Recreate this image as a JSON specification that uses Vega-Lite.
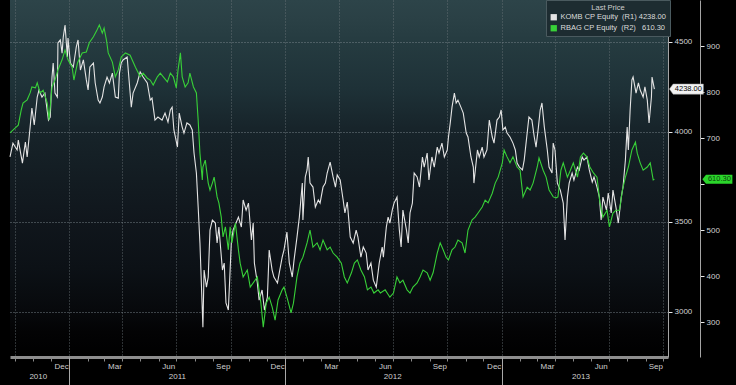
{
"$schema": "https://vega.github.io/schema/vega-lite/v6.json",
"width": 658,
"height": 357,
"autosize": {"type": "none"},
"padding": {"left": 10, "top": 0, "right": 68, "bottom": 28},
"background": "#000000",
"view": {"stroke": null, "fill": {"gradient": "linear", "x1": 0, "y1": 0, "x2": 0, "y2": 1, "stops": [
  {"offset": 0, "color": "#2d4449"},
  {"offset": 0.06, "color": "#2a4045"},
  {"offset": 0.12, "color": "#253b40"},
  {"offset": 0.25, "color": "#1e3137"},
  {"offset": 0.36, "color": "#17242a"},
  {"offset": 0.5, "color": "#131c22"},
  {"offset": 0.62, "color": "#10161c"},
  {"offset": 0.75, "color": "#0c1116"},
  {"offset": 0.87, "color": "#07090c"},
  {"offset": 0.93, "color": "#030304"},
  {"offset": 1, "color": "#000000"}]}},
"config": {
  "font": "Liberation Sans Narrow, Liberation Sans, sans-serif",
  "axis": {"labelFont": "Liberation Sans Narrow, Liberation Sans, sans-serif", "labelColor": "#cfcfcf", "labelFontSize": 8, "title": null, "grid": false},
  "text": {"font": "Liberation Sans Narrow, Liberation Sans, sans-serif"}
},
"datasets": {
"komb": [
{"d":"2010-09-23","v":3861},{"d":"2010-09-28","v":3938},{"d":"2010-10-05","v":3900},{"d":"2010-10-07","v":3955},{"d":"2010-10-14","v":3827},{"d":"2010-10-19","v":3944},{"d":"2010-10-22","v":3861},{"d":"2010-10-27","v":4027},{"d":"2010-10-30","v":4133},{"d":"2010-11-03","v":4039},{"d":"2010-11-08","v":4194},{"d":"2010-11-11","v":4233},{"d":"2010-11-16","v":4194},{"d":"2010-11-21","v":4216},{"d":"2010-11-27","v":4066},{"d":"2010-11-30","v":4083},{"d":"2010-12-03","v":4305},{"d":"2010-12-05","v":4383},{"d":"2010-12-08","v":4216},{"d":"2010-12-12","v":4194},{"d":"2010-12-13","v":4494},{"d":"2010-12-17","v":4511},{"d":"2010-12-20","v":4438},{"d":"2010-12-22","v":4527},{"d":"2010-12-25","v":4594},{"d":"2010-12-29","v":4416},{"d":"2010-12-30","v":4522},
{"d":"2011-01-03","v":4383},{"d":"2011-01-08","v":4361},{"d":"2011-01-13","v":4472},{"d":"2011-01-16","v":4511},{"d":"2011-01-20","v":4344},{"d":"2011-01-25","v":4400},{"d":"2011-01-30","v":4289},{"d":"2011-02-02","v":4233},{"d":"2011-02-05","v":4361},{"d":"2011-02-11","v":4383},{"d":"2011-02-14","v":4272},{"d":"2011-02-19","v":4177},{"d":"2011-02-22","v":4161},{"d":"2011-02-26","v":4194},{"d":"2011-03-01","v":4250},{"d":"2011-03-06","v":4305},{"d":"2011-03-10","v":4272},{"d":"2011-03-15","v":4327},{"d":"2011-03-20","v":4194},{"d":"2011-03-25","v":4188},{"d":"2011-03-27","v":4327},{"d":"2011-03-30","v":4383},{"d":"2011-04-02","v":4400},{"d":"2011-04-09","v":4416},{"d":"2011-04-16","v":4138},{"d":"2011-04-19","v":4216},{"d":"2011-04-26","v":4272},{"d":"2011-05-01","v":4333},{"d":"2011-05-06","v":4305},{"d":"2011-05-13","v":4272},{"d":"2011-05-18","v":4177},{"d":"2011-05-21","v":4188},{"d":"2011-05-26","v":4066},{"d":"2011-05-31","v":4083},{"d":"2011-06-07","v":4066},{"d":"2011-06-12","v":4105},{"d":"2011-06-17","v":4055},{"d":"2011-06-21","v":4122},{"d":"2011-06-24","v":4138},{"d":"2011-06-27","v":4011},{"d":"2011-07-03","v":3916},{"d":"2011-07-06","v":4105},{"d":"2011-07-11","v":4027},{"d":"2011-07-14","v":3994},{"d":"2011-07-19","v":4050},{"d":"2011-07-24","v":4039},{"d":"2011-07-28","v":4011},{"d":"2011-07-31","v":3883},{"d":"2011-08-04","v":3772},{"d":"2011-08-07","v":3583},{"d":"2011-08-10","v":3383},{"d":"2011-08-14","v":3011},{"d":"2011-08-15","v":2916},{"d":"2011-08-17","v":3233},{"d":"2011-08-21","v":3138},{"d":"2011-08-24","v":3194},{"d":"2011-08-27","v":3455},{"d":"2011-08-31","v":3511},{"d":"2011-09-05","v":3494},{"d":"2011-09-08","v":3383},{"d":"2011-09-11","v":3472},{"d":"2011-09-17","v":3233},{"d":"2011-09-20","v":3272},{"d":"2011-09-23","v":3050},{"d":"2011-09-27","v":3011},{"d":"2011-10-02","v":3383},{"d":"2011-10-05","v":3455},{"d":"2011-10-10","v":3494},{"d":"2011-10-14","v":3527},{"d":"2011-10-19","v":3472},{"d":"2011-10-22","v":3622},{"d":"2011-10-27","v":3566},{"d":"2011-10-31","v":3605},{"d":"2011-11-05","v":3400},{"d":"2011-11-08","v":3494},{"d":"2011-11-10","v":3272},{"d":"2011-11-15","v":3161},{"d":"2011-11-18","v":3066},{"d":"2011-11-23","v":3122},{"d":"2011-11-27","v":3011},{"d":"2011-12-02","v":3083},{"d":"2011-12-05","v":3344},{"d":"2011-12-10","v":3233},{"d":"2011-12-13","v":3194},{"d":"2011-12-19","v":3161},{"d":"2011-12-22","v":3216},{"d":"2011-12-27","v":3305},{"d":"2011-12-30","v":3344},
{"d":"2012-01-04","v":3444},{"d":"2012-01-08","v":3272},{"d":"2012-01-13","v":3194},{"d":"2012-01-16","v":3288},{"d":"2012-01-21","v":3416},{"d":"2012-01-25","v":3527},{"d":"2012-01-30","v":3716},{"d":"2012-01-31","v":3511},{"d":"2012-02-04","v":3750},{"d":"2012-02-07","v":3789},{"d":"2012-02-09","v":3861},{"d":"2012-02-12","v":3716},{"d":"2012-02-17","v":3694},{"d":"2012-02-21","v":3583},{"d":"2012-02-26","v":3622},{"d":"2012-02-29","v":3605},{"d":"2012-03-05","v":3694},{"d":"2012-03-09","v":3716},{"d":"2012-03-12","v":3772},{"d":"2012-03-17","v":3833},{"d":"2012-03-22","v":3750},{"d":"2012-03-26","v":3694},{"d":"2012-03-29","v":3761},{"d":"2012-04-03","v":3733},{"d":"2012-04-08","v":3622},{"d":"2012-04-11","v":3550},{"d":"2012-04-15","v":3611},{"d":"2012-04-20","v":3416},{"d":"2012-04-25","v":3383},{"d":"2012-04-30","v":3455},{"d":"2012-05-03","v":3416},{"d":"2012-05-08","v":3305},{"d":"2012-05-12","v":3361},{"d":"2012-05-17","v":3327},{"d":"2012-05-20","v":3233},{"d":"2012-05-25","v":3272},{"d":"2012-05-29","v":3177},{"d":"2012-06-03","v":3138},{"d":"2012-06-08","v":3272},{"d":"2012-06-13","v":3361},{"d":"2012-06-15","v":3305},{"d":"2012-06-20","v":3472},{"d":"2012-06-23","v":3527},{"d":"2012-06-26","v":3494},{"d":"2012-06-30","v":3566},{"d":"2012-07-03","v":3605},{"d":"2012-07-08","v":3638},{"d":"2012-07-12","v":3455},{"d":"2012-07-15","v":3361},{"d":"2012-07-18","v":3566},{"d":"2012-07-24","v":3455},{"d":"2012-07-27","v":3383},{"d":"2012-07-30","v":3550},{"d":"2012-08-03","v":3605},{"d":"2012-08-06","v":3772},{"d":"2012-08-11","v":3750},{"d":"2012-08-15","v":3694},{"d":"2012-08-20","v":3861},{"d":"2012-08-23","v":3805},{"d":"2012-08-28","v":3883},{"d":"2012-08-31","v":3733},{"d":"2012-09-05","v":3861},{"d":"2012-09-09","v":3805},{"d":"2012-09-14","v":3916},{"d":"2012-09-17","v":3883},{"d":"2012-09-22","v":3938},{"d":"2012-09-26","v":3861},{"d":"2012-10-01","v":3900},{"d":"2012-10-03","v":3972},{"d":"2012-10-06","v":4050},{"d":"2012-10-09","v":4138},{"d":"2012-10-13","v":4216},{"d":"2012-10-16","v":4161},{"d":"2012-10-19","v":4177},{"d":"2012-10-24","v":4138},{"d":"2012-10-28","v":4105},{"d":"2012-11-02","v":3994},{"d":"2012-11-05","v":3972},{"d":"2012-11-10","v":3861},{"d":"2012-11-14","v":3805},{"d":"2012-11-15","v":3716},{"d":"2012-11-21","v":3900},{"d":"2012-11-24","v":3861},{"d":"2012-11-29","v":3916},{"d":"2012-12-02","v":3861},{"d":"2012-12-07","v":3900},{"d":"2012-12-11","v":4066},{"d":"2012-12-16","v":3972},{"d":"2012-12-19","v":3938},{"d":"2012-12-24","v":4066},{"d":"2012-12-28","v":4083},{"d":"2012-12-31","v":4122},
{"d":"2013-01-03","v":4011},{"d":"2013-01-07","v":4027},{"d":"2013-01-10","v":3994},{"d":"2013-01-15","v":3972},{"d":"2013-01-20","v":3938},{"d":"2013-01-24","v":3900},{"d":"2013-01-27","v":3827},{"d":"2013-01-31","v":3805},{"d":"2013-02-05","v":3789},{"d":"2013-02-08","v":3844},{"d":"2013-02-13","v":3994},{"d":"2013-02-16","v":4083},{"d":"2013-02-21","v":4066},{"d":"2013-02-25","v":3972},{"d":"2013-02-28","v":3916},{"d":"2013-03-04","v":4027},{"d":"2013-03-07","v":4122},{"d":"2013-03-10","v":4161},{"d":"2013-03-14","v":4027},{"d":"2013-03-19","v":3900},{"d":"2013-03-22","v":3805},{"d":"2013-03-27","v":3772},{"d":"2013-03-29","v":3938},{"d":"2013-04-01","v":3900},{"d":"2013-04-05","v":3716},{"d":"2013-04-10","v":3677},{"d":"2013-04-15","v":3605},{"d":"2013-04-18","v":3400},{"d":"2013-04-22","v":3638},{"d":"2013-04-25","v":3716},{"d":"2013-04-30","v":3772},{"d":"2013-05-03","v":3733},{"d":"2013-05-09","v":3805},{"d":"2013-05-12","v":3789},{"d":"2013-05-17","v":3861},{"d":"2013-05-20","v":3844},{"d":"2013-05-25","v":3861},{"d":"2013-05-29","v":3789},{"d":"2013-06-03","v":3722},{"d":"2013-06-06","v":3750},{"d":"2013-06-11","v":3694},{"d":"2013-06-15","v":3638},{"d":"2013-06-18","v":3511},{"d":"2013-06-21","v":3638},{"d":"2013-06-27","v":3566},{"d":"2013-06-30","v":3661},{"d":"2013-07-05","v":3550},{"d":"2013-07-08","v":3677},{"d":"2013-07-13","v":3583},{"d":"2013-07-17","v":3494},{"d":"2013-07-22","v":3638},{"d":"2013-07-25","v":3694},{"d":"2013-07-29","v":3844},{"d":"2013-08-01","v":4027},{"d":"2013-08-03","v":3900},{"d":"2013-08-06","v":4122},{"d":"2013-08-09","v":4289},{"d":"2013-08-11","v":4305},{"d":"2013-08-16","v":4216},{"d":"2013-08-20","v":4272},{"d":"2013-08-23","v":4233},{"d":"2013-08-28","v":4194},{"d":"2013-08-31","v":4250},{"d":"2013-09-04","v":4177},{"d":"2013-09-07","v":4050},{"d":"2013-09-11","v":4194},{"d":"2013-09-12","v":4305},{"d":"2013-09-16","v":4238}
],
"rbag": [
{"d":"2010-09-23","v":711},{"d":"2010-10-02","v":722},{"d":"2010-10-07","v":728},{"d":"2010-10-12","v":761},{"d":"2010-10-15","v":776},{"d":"2010-10-22","v":783},{"d":"2010-10-27","v":798},{"d":"2010-10-30","v":811},{"d":"2010-11-05","v":809},{"d":"2010-11-08","v":820},{"d":"2010-11-13","v":798},{"d":"2010-11-18","v":804},{"d":"2010-11-25","v":776},{"d":"2010-11-28","v":739},{"d":"2010-12-03","v":811},{"d":"2010-12-08","v":826},{"d":"2010-12-13","v":848},{"d":"2010-12-20","v":870},{"d":"2010-12-25","v":891},{"d":"2010-12-30","v":870},
{"d":"2011-01-06","v":854},{"d":"2011-01-09","v":826},{"d":"2011-01-15","v":863},{"d":"2011-01-23","v":885},{"d":"2011-01-30","v":887},{"d":"2011-02-04","v":907},{"d":"2011-02-11","v":920},{"d":"2011-02-17","v":935},{"d":"2011-02-21","v":946},{"d":"2011-02-26","v":928},{"d":"2011-03-01","v":939},{"d":"2011-03-05","v":913},{"d":"2011-03-08","v":885},{"d":"2011-03-15","v":865},{"d":"2011-03-20","v":833},{"d":"2011-03-25","v":848},{"d":"2011-03-30","v":876},{"d":"2011-04-06","v":885},{"d":"2011-04-14","v":880},{"d":"2011-04-23","v":854},{"d":"2011-05-01","v":833},{"d":"2011-05-06","v":841},{"d":"2011-05-13","v":830},{"d":"2011-05-18","v":826},{"d":"2011-05-23","v":815},{"d":"2011-05-30","v":833},{"d":"2011-06-04","v":841},{"d":"2011-06-09","v":833},{"d":"2011-06-16","v":822},{"d":"2011-06-21","v":841},{"d":"2011-06-26","v":833},{"d":"2011-07-01","v":809},{"d":"2011-07-04","v":848},{"d":"2011-07-08","v":885},{"d":"2011-07-11","v":833},{"d":"2011-07-16","v":811},{"d":"2011-07-21","v":820},{"d":"2011-07-24","v":841},{"d":"2011-07-30","v":811},{"d":"2011-08-04","v":798},{"d":"2011-08-07","v":739},{"d":"2011-08-10","v":667},{"d":"2011-08-14","v":609},{"d":"2011-08-15","v":637},{"d":"2011-08-19","v":652},{"d":"2011-08-24","v":602},{"d":"2011-08-27","v":587},{"d":"2011-08-31","v":602},{"d":"2011-09-03","v":615},{"d":"2011-09-08","v":572},{"d":"2011-09-11","v":559},{"d":"2011-09-15","v":528},{"d":"2011-09-18","v":485},{"d":"2011-09-22","v":507},{"d":"2011-09-27","v":457},{"d":"2011-09-30","v":507},{"d":"2011-10-03","v":472},{"d":"2011-10-09","v":515},{"d":"2011-10-14","v":457},{"d":"2011-10-17","v":428},{"d":"2011-10-22","v":398},{"d":"2011-10-29","v":413},{"d":"2011-11-03","v":376},{"d":"2011-11-08","v":385},{"d":"2011-11-15","v":398},{"d":"2011-11-21","v":341},{"d":"2011-11-25","v":289},{"d":"2011-11-30","v":341},{"d":"2011-12-05","v":354},{"d":"2011-12-10","v":333},{"d":"2011-12-15","v":304},{"d":"2011-12-20","v":348},{"d":"2011-12-27","v":370},{"d":"2011-12-30","v":376},
{"d":"2012-01-04","v":354},{"d":"2012-01-11","v":320},{"d":"2012-01-15","v":341},{"d":"2012-01-21","v":398},{"d":"2012-01-26","v":428},{"d":"2012-01-31","v":441},{"d":"2012-02-07","v":472},{"d":"2012-02-12","v":500},{"d":"2012-02-17","v":463},{"d":"2012-02-24","v":472},{"d":"2012-02-29","v":457},{"d":"2012-03-05","v":478},{"d":"2012-03-12","v":457},{"d":"2012-03-17","v":463},{"d":"2012-03-22","v":450},{"d":"2012-03-29","v":441},{"d":"2012-04-05","v":428},{"d":"2012-04-10","v":398},{"d":"2012-04-15","v":385},{"d":"2012-04-22","v":407},{"d":"2012-04-27","v":428},{"d":"2012-05-02","v":435},{"d":"2012-05-08","v":413},{"d":"2012-05-14","v":398},{"d":"2012-05-19","v":370},{"d":"2012-05-25","v":376},{"d":"2012-05-30","v":363},{"d":"2012-06-06","v":370},{"d":"2012-06-10","v":363},{"d":"2012-06-18","v":370},{"d":"2012-06-26","v":354},{"d":"2012-07-02","v":363},{"d":"2012-07-08","v":398},{"d":"2012-07-13","v":385},{"d":"2012-07-18","v":391},{"d":"2012-07-25","v":370},{"d":"2012-07-30","v":363},{"d":"2012-08-04","v":376},{"d":"2012-08-11","v":385},{"d":"2012-08-16","v":398},{"d":"2012-08-21","v":413},{"d":"2012-08-28","v":407},{"d":"2012-09-02","v":391},{"d":"2012-09-07","v":407},{"d":"2012-09-14","v":450},{"d":"2012-09-19","v":472},{"d":"2012-09-24","v":457},{"d":"2012-09-29","v":441},{"d":"2012-10-03","v":435},{"d":"2012-10-09","v":457},{"d":"2012-10-14","v":463},{"d":"2012-10-19","v":478},{"d":"2012-10-26","v":472},{"d":"2012-10-31","v":450},{"d":"2012-11-05","v":500},{"d":"2012-11-12","v":522},{"d":"2012-11-17","v":528},{"d":"2012-11-22","v":537},{"d":"2012-11-29","v":550},{"d":"2012-12-04","v":565},{"d":"2012-12-09","v":559},{"d":"2012-12-16","v":580},{"d":"2012-12-21","v":602},{"d":"2012-12-26","v":615},
{"d":"2013-01-02","v":646},{"d":"2013-01-05","v":674},{"d":"2013-01-10","v":659},{"d":"2013-01-15","v":646},{"d":"2013-01-20","v":659},{"d":"2013-01-27","v":637},{"d":"2013-02-01","v":630},{"d":"2013-02-06","v":572},{"d":"2013-02-13","v":593},{"d":"2013-02-18","v":587},{"d":"2013-02-23","v":602},{"d":"2013-03-02","v":637},{"d":"2013-03-05","v":657},{"d":"2013-03-12","v":630},{"d":"2013-03-17","v":615},{"d":"2013-03-22","v":587},{"d":"2013-03-29","v":572},{"d":"2013-04-03","v":570},{"d":"2013-04-06","v":572},{"d":"2013-04-11","v":630},{"d":"2013-04-15","v":646},{"d":"2013-04-22","v":615},{"d":"2013-04-27","v":630},{"d":"2013-05-02","v":646},{"d":"2013-05-09","v":615},{"d":"2013-05-14","v":659},{"d":"2013-05-19","v":667},{"d":"2013-05-25","v":659},{"d":"2013-05-30","v":637},{"d":"2013-06-05","v":624},{"d":"2013-06-11","v":615},{"d":"2013-06-16","v":559},{"d":"2013-06-21","v":528},{"d":"2013-06-28","v":543},{"d":"2013-07-02","v":507},{"d":"2013-07-08","v":537},{"d":"2013-07-13","v":543},{"d":"2013-07-19","v":543},{"d":"2013-07-24","v":587},{"d":"2013-07-29","v":615},{"d":"2013-08-03","v":637},{"d":"2013-08-09","v":674},{"d":"2013-08-15","v":691},{"d":"2013-08-18","v":667},{"d":"2013-08-23","v":646},{"d":"2013-08-28","v":630},{"d":"2013-09-04","v":637},{"d":"2013-09-09","v":646},{"d":"2013-09-14","v":609},{"d":"2013-09-16","v":610.3}
],
"last": [
{"s":"KOMB","d":"2013-09-16","v":4238,"t":"4238.00"},
{"s":"RBAG","d":"2013-09-16","v":610.3,"t":"610.30"}
]
},
"resolve": {"scale": {"x": "independent", "y": "independent"}, "axis": {"x": "independent", "y": "independent"}},
"layer": [
{
 "data": {"name": "komb"},
 "mark": {"type": "line", "strokeWidth": 1.1},
 "encoding": {
  "x": {"field": "d", "type": "temporal",
   "scale": {"type": "utc", "domain": [{"year": 2010, "month": 9, "date": 23, "utc": true}, {"year": 2013, "month": 10, "date": 9, "utc": true}]},
   "axis": {"orient": "bottom",
    "values": [{"year":2010,"month":10,"date":1,"utc":true},{"year":2011,"month":1,"date":1,"utc":true},{"year":2011,"month":4,"date":1,"utc":true},{"year":2011,"month":7,"date":1,"utc":true},{"year":2011,"month":10,"date":1,"utc":true},{"year":2012,"month":1,"date":1,"utc":true},{"year":2012,"month":4,"date":1,"utc":true},{"year":2012,"month":7,"date":1,"utc":true},{"year":2012,"month":10,"date":1,"utc":true},{"year":2013,"month":1,"date":1,"utc":true},{"year":2013,"month":4,"date":1,"utc":true},{"year":2013,"month":7,"date":1,"utc":true},{"year":2013,"month":10,"date":1,"utc":true}],
    "grid": true, "gridColor": "#6b7479", "gridDash": [1, 2], "gridOpacity": 0.85,
    "ticks": false, "domain": true, "domainColor": "#8e8e8e", "domainWidth": 3,
    "labelExpr": "utcyear(datum.value) < 2011 ? '' : (utcmonth(datum.value) == 0 ? 'Dec' : utcmonth(datum.value) == 3 ? 'Mar' : utcmonth(datum.value) == 6 ? 'Jun' : 'Sep')",
    "labelOffset": -8, "labelPadding": 5, "labelFlush": false, "labelOverlap": false}},
  "y": {"field": "v", "type": "quantitative",
   "scale": {"domain": [2750, 4733], "nice": false, "zero": false},
   "axis": {"orient": "right", "values": [3000, 3500, 4000, 4500], "format": "d", "grid": true, "gridColor": "#7e8b90", "gridDash": [1, 2], "gridOpacity": 0.9,
    "domain": true, "domainColor": "#a5a5a5", "domainWidth": 1, "ticks": true, "tickSize": 4, "tickColor": "#e8e8e8", "labelPadding": 2, "labelColor": "#d2d2d2"}},
  "color": {"datum": "KOMB CP Equity\u00a0\u00a0(R1)\u00a04238.00",
   "scale": {"domain": ["KOMB CP Equity\u00a0\u00a0(R1)\u00a04238.00", "RBAG CP Equity\u00a0\u00a0(R2)\u00a0\u00a0\u00a0610.30"], "range": ["#e4e4e4", "#38d038"]},
   "legend": {"orient": "none", "legendX": 536, "legendY": 0, "title": "Last Price", "titleAnchor": "middle", "titleColor": "#cfcfcf", "titleFontSize": 7.5, "titleFontWeight": "normal", "titleFont": "Liberation Sans Narrow, Liberation Sans, sans-serif", "titlePadding": 2,
    "labelColor": "#dcdcdc", "labelFontSize": 7.5, "labelFont": "Liberation Sans Narrow, Liberation Sans, sans-serif", "labelLimit": 300, "labelOffset": 3,
    "symbolType": "square", "symbolSize": 40, "symbolStrokeWidth": 0, "rowPadding": 2, "padding": 4,
    "fillColor": "#1d2c31", "strokeColor": "#4a5a5f",
    "encode": {"symbols": {"update": {"fill": {"scale": "color", "field": "value"}, "fillOpacity": {"value": 1}}}}}}
 }
},
{
 "data": {"name": "rbag"},
 "mark": {"type": "line", "strokeWidth": 1.1},
 "encoding": {
  "x": {"field": "d", "type": "temporal",
   "scale": {"type": "utc", "domain": [{"year": 2010, "month": 9, "date": 23, "utc": true}, {"year": 2013, "month": 10, "date": 9, "utc": true}]},
   "axis": {"orient": "bottom",
    "values": [{"year":2010,"month":11,"date":9,"utc":true},{"year":2011,"month":7,"date":2,"utc":true},{"year":2012,"month":6,"date":30,"utc":true},{"year":2013,"month":5,"date":14,"utc":true}],
    "labelExpr": "utcFormat(datum.value, '%Y')", "ticks": false, "domain": false, "grid": false, "labelPadding": 15, "labelFlush": false, "labelOverlap": false}},
  "y": {"field": "v", "type": "quantitative",
   "scale": {"domain": [224, 1000], "nice": false, "zero": false},
   "axis": {"orient": "right", "offset": 32, "values": [300, 400, 500, 600, 700, 800, 900], "grid": false,
    "labelExpr": "datum.value == 600 ? '' : datum.label",
    "domain": true, "domainColor": "#a5a5a5", "domainWidth": 1, "ticks": true, "tickSize": 4, "tickColor": "#e8e8e8", "labelPadding": 2, "labelColor": "#d2d2d2"}},
  "color": {"datum": "RBAG CP Equity\u00a0\u00a0(R2)\u00a0\u00a0\u00a0610.30"}
 }
},
{
 "data": {"name": "last"},
 "transform": [{"filter": "datum.s == 'KOMB'"}],
 "mark": {"type": "point", "shape": "M-1,0L-0.78,-0.3L1,-0.3L1,0.3L-0.78,0.3Z", "size": 1156, "filled": true, "fill": "#f2f2f2", "stroke": "#9a9a9a", "strokeWidth": 0.5, "opacity": 1, "xOffset": 32},
 "encoding": {
  "x": {"field": "d", "type": "temporal",
   "scale": {"type": "utc", "domain": [{"year": 2010, "month": 9, "date": 23, "utc": true}, {"year": 2013, "month": 10, "date": 9, "utc": true}]},
   "axis": {"orient": "bottom",
    "values": [{"year":2011,"month":1,"date":1,"utc":true},{"year":2012,"month":1,"date":1,"utc":true},{"year":2013,"month":1,"date":1,"utc":true}],
    "labels": false, "domain": false, "grid": false, "ticks": true, "tickColor": "#a8a8a8", "tickWidth": 1, "tickSize": 28}},
  "y": {"field": "v", "type": "quantitative", "scale": {"domain": [2750, 4733], "nice": false, "zero": false}, "axis": null}
 }
},
{
 "data": {"name": "last"},
 "transform": [{"filter": "datum.s == 'KOMB'"}],
 "mark": {"type": "text", "xOffset": 34, "color": "#050505", "fontSize": 7.5, "align": "center", "baseline": "middle"},
 "encoding": {
  "x": {"field": "d", "type": "temporal", "scale": {"type": "utc", "domain": [{"year": 2010, "month": 9, "date": 23, "utc": true}, {"year": 2013, "month": 10, "date": 9, "utc": true}]},
   "axis": {"orient": "bottom",
    "values": [{"year":2010,"month":10,"date":1,"utc":true},{"year":2010,"month":11,"date":1,"utc":true},{"year":2010,"month":12,"date":1,"utc":true},
     {"year":2011,"month":2,"date":1,"utc":true},{"year":2011,"month":3,"date":1,"utc":true},{"year":2011,"month":4,"date":1,"utc":true},{"year":2011,"month":5,"date":1,"utc":true},{"year":2011,"month":6,"date":1,"utc":true},{"year":2011,"month":7,"date":1,"utc":true},{"year":2011,"month":8,"date":1,"utc":true},{"year":2011,"month":9,"date":1,"utc":true},{"year":2011,"month":10,"date":1,"utc":true},{"year":2011,"month":11,"date":1,"utc":true},{"year":2011,"month":12,"date":1,"utc":true},
     {"year":2012,"month":2,"date":1,"utc":true},{"year":2012,"month":3,"date":1,"utc":true},{"year":2012,"month":4,"date":1,"utc":true},{"year":2012,"month":5,"date":1,"utc":true},{"year":2012,"month":6,"date":1,"utc":true},{"year":2012,"month":7,"date":1,"utc":true},{"year":2012,"month":8,"date":1,"utc":true},{"year":2012,"month":9,"date":1,"utc":true},{"year":2012,"month":10,"date":1,"utc":true},{"year":2012,"month":11,"date":1,"utc":true},{"year":2012,"month":12,"date":1,"utc":true},
     {"year":2013,"month":2,"date":1,"utc":true},{"year":2013,"month":3,"date":1,"utc":true},{"year":2013,"month":4,"date":1,"utc":true},{"year":2013,"month":5,"date":1,"utc":true},{"year":2013,"month":6,"date":1,"utc":true},{"year":2013,"month":7,"date":1,"utc":true},{"year":2013,"month":8,"date":1,"utc":true},{"year":2013,"month":9,"date":1,"utc":true},{"year":2013,"month":10,"date":1,"utc":true}],
    "labels": false, "domain": false, "grid": false, "ticks": true, "tickColor": "#8a8a8a", "tickWidth": 1, "tickSize": 4}},
  "y": {"field": "v", "type": "quantitative", "scale": {"domain": [2750, 4733], "nice": false, "zero": false}, "axis": null},
  "text": {"field": "t"}
 }
},
{
 "data": {"name": "last"},
 "transform": [{"filter": "datum.s == 'RBAG'"}],
 "mark": {"type": "point", "shape": "M-1,0L-0.76,-0.3L1,-0.3L1,0.3L-0.76,0.3Z", "size": 900, "filled": true, "fill": "#2bd62b", "strokeWidth": 0, "opacity": 1, "xOffset": 63},
 "encoding": {
  "x": {"field": "d", "type": "temporal", "scale": {"type": "utc", "domain": [{"year": 2010, "month": 9, "date": 23, "utc": true}, {"year": 2013, "month": 10, "date": 9, "utc": true}]}, "axis": null},
  "y": {"field": "v", "type": "quantitative", "scale": {"domain": [224, 1000], "nice": false, "zero": false}, "axis": null}
 }
},
{
 "data": {"name": "last"},
 "transform": [{"filter": "datum.s == 'RBAG'"}],
 "mark": {"type": "text", "xOffset": 65, "color": "#0b420b", "fontSize": 7.5, "align": "center", "baseline": "middle"},
 "encoding": {
  "x": {"field": "d", "type": "temporal", "scale": {"type": "utc", "domain": [{"year": 2010, "month": 9, "date": 23, "utc": true}, {"year": 2013, "month": 10, "date": 9, "utc": true}]}, "axis": null},
  "y": {"field": "v", "type": "quantitative", "scale": {"domain": [224, 1000], "nice": false, "zero": false}, "axis": null},
  "text": {"field": "t"}
 }
}
]
}
